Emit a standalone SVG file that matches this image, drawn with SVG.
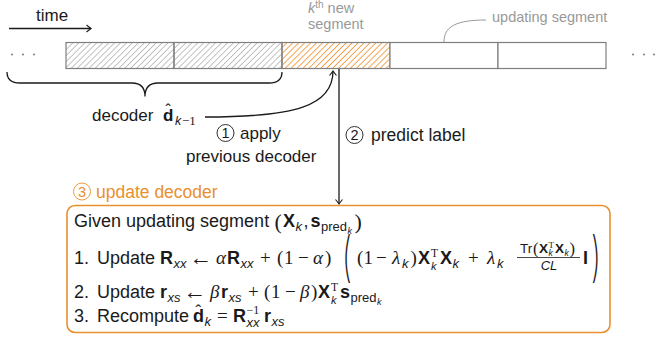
<svg xmlns="http://www.w3.org/2000/svg" width="657" height="339" viewBox="0 0 657 339">
<defs>
<style>
.t{font-family:"Liberation Sans",Arial,sans-serif;fill:#1a1a1a}
.b{font-family:"Liberation Sans",Arial,sans-serif;font-weight:bold;fill:#1a1a1a}
.i{font-family:"Liberation Sans",Arial,sans-serif;font-style:italic;fill:#1a1a1a}
.r{font-family:"Liberation Serif","Times New Roman",serif;fill:#1a1a1a}
.g{font-family:"Liberation Serif","Times New Roman",serif;font-style:italic;fill:#1a1a1a}
.big{font-family:Inter,"Liberation Sans",sans-serif;font-weight:200;fill:#1a1a1a}
.gray{font-family:"Liberation Sans",Arial,sans-serif;font-size:14.5px;fill:#999}
.orange{font-family:"Liberation Sans",Arial,sans-serif;fill:#e8902e}
.seg{stroke:#7f7f7f;stroke-width:1.2}
.line{fill:none;stroke:#1a1a1a;stroke-width:1.3}
.circ{fill:none;stroke:#1a1a1a;stroke-width:0.9}
</style>
<pattern id="hg" width="4.2" height="4.2" patternUnits="userSpaceOnUse" patternTransform="rotate(45)">
<line x1="2.1" y1="0" x2="2.1" y2="4.2" stroke="#b3b3b3" stroke-width="0.8"/>
</pattern>
<pattern id="ho" width="4.2" height="4.2" patternUnits="userSpaceOnUse" patternTransform="rotate(45)">
<line x1="2.1" y1="0" x2="2.1" y2="4.2" stroke="#f09a3e" stroke-width="0.9"/>
</pattern>
<marker id="arr" viewBox="-6 -5 8 10" refX="0" refY="0" markerWidth="8" markerHeight="10" markerUnits="userSpaceOnUse" orient="auto">
<path d="M-4.5,-3.5 Q-1,-0.6 0,0 Q-1,0.6 -4.5,3.5" fill="none" stroke="#1a1a1a" stroke-width="1.1"/>
</marker>
</defs>
<rect width="657" height="339" fill="#fff"/>
<g font-size="17">

<g id="time">
<text class="t" x="36" y="21">time</text>
</g>

<g id="dots-left" fill="#888">
<circle cx="12" cy="54.5" r="1.1"/><circle cx="23" cy="54.5" r="1.1"/><circle cx="34" cy="54.5" r="1.1"/>
</g>
<g id="dots-right" fill="#888">
<circle cx="633" cy="54.5" r="1.1"/><circle cx="644" cy="54.5" r="1.1"/><circle cx="654" cy="54.5" r="1.1"/>
</g>

<g id="segments">
<rect class="seg" x="66" y="42.5" width="108" height="26" fill="url(#hg)"/>
<rect class="seg" x="174" y="42.5" width="108" height="26" fill="url(#hg)"/>
<rect class="seg" x="282" y="42.5" width="108" height="26" fill="url(#ho)"/>
<rect class="seg" x="390" y="42.5" width="108" height="26" fill="#fff"/>
<rect class="seg" x="498" y="42.5" width="108" height="26" fill="#fff"/>
</g>

<g id="kth-label">
<text class="gray" x="308" y="13"><tspan font-style="italic">k</tspan><tspan font-size="10" dy="-5">th</tspan><tspan dy="5"> new</tspan></text>
<text class="gray" x="308" y="29">segment</text>
</g>

<g id="updating-label">
<text class="gray" x="492" y="22">updating segment</text>
</g>

<g id="decoder-label">
<text class="t" x="92" y="121">decoder</text>
<text class="b" x="163" y="121">d</text>
<text class="t" x="165.5" y="116" font-size="16">ˆ</text>
<text class="i" x="175" y="125" font-size="12.5">k</text>
<text class="r" x="182" y="125" font-size="13">−1</text>
</g>

<g id="step1">
<circle class="circ" cx="225.5" cy="133" r="8.5"/>
<text class="t" x="225.5" y="138.3" font-size="14.5" text-anchor="middle">1</text>
<text class="t" x="240" y="139">apply</text>
<text class="t" x="186" y="162">previous decoder</text>
</g>

<g id="step2">
<circle class="circ" cx="354.5" cy="135" r="8.5"/>
<text class="t" x="354.5" y="140.3" font-size="14.5" text-anchor="middle">2</text>
<text class="t" x="371" y="141" font-size="17.5">predict label</text>
</g>

<g id="step3">
<circle cx="82" cy="191.5" r="8.5" fill="none" stroke="#e8902e" stroke-width="0.9"/>
<text class="orange" x="82" y="196.8" font-size="14.5" text-anchor="middle">3</text>
<text class="orange" x="96" y="198" font-size="17.5">update decoder</text>
</g>

<g id="connectors">
<path class="line" d="M9,28.5 H91" marker-end="url(#arr)"/>
<path class="line" d="M7,72 Q7,83 20,83 L132,83 Q145,83 145,96.5 Q145,83 158,83 L269,83 Q282,83 282,72"/>
<path class="line" d="M205,117 C295,117 333,106 333,71" marker-end="url(#arr)"/>
<path class="line" d="M339,69 V204" marker-end="url(#arr)"/>
<path d="M486,20 C455,20 444,27 444,42" fill="none" stroke="#999" stroke-width="1"/>
</g>

<g id="update-box" font-size="18">
<rect x="67" y="205.5" width="543" height="127" rx="8" ry="8" fill="none" stroke="#e8902e" stroke-width="1.6"/>

<!-- line 0 -->
<text class="t" x="74" y="227">Given updating segment</text>
<text class="r" x="274.5" y="229" font-size="22">(</text>
<text class="b" x="283" y="227">X</text>
<text class="i" x="295.5" y="231" font-size="13">k</text>
<text class="t" x="303.5" y="227">,</text>
<text class="b" x="310.5" y="227">s</text>
<text class="t" x="321" y="231" font-size="13">pred</text>
<text class="i" x="347.5" y="234" font-size="9">k</text>
<text class="r" x="354.5" y="229" font-size="22">)</text>

<!-- line 1 -->
<text class="t" x="74" y="264">1.</text>
<text class="t" x="97" y="264">Update</text>
<text class="b" x="160" y="264">R</text>
<text class="i" x="173.5" y="268" font-size="13">xx</text>
<text class="t" x="189" y="265" font-size="23">←</text>
<text class="g" x="216" y="264" font-size="19">α</text>
<text class="b" x="227" y="264">R</text>
<text class="i" x="240.5" y="268" font-size="13">xx</text>
<text class="r" x="260" y="264" font-size="19">+</text>
<text class="r" x="277" y="264" font-size="19">(</text>
<text class="r" x="284" y="264" font-size="19">1</text>
<text class="r" x="298" y="264" font-size="19">−</text>
<text class="g" x="313" y="264" font-size="19">α</text>
<text class="r" x="325" y="264" font-size="19">)</text>
<text class="big" transform="translate(342,276) scale(0.55,1)" x="0" y="0" font-size="54">(</text>
<text class="r" x="357" y="264" font-size="19">(</text>
<text class="r" x="363.5" y="264" font-size="19">1</text>
<text class="r" x="376" y="264" font-size="19">−</text>
<text class="g" x="392" y="264" font-size="19">λ</text>
<text class="i" x="402" y="268" font-size="13">k</text>
<text class="r" x="410.5" y="264" font-size="19">)</text>
<text class="b" x="418" y="264">X</text>
<text class="r" x="431" y="256.5" font-size="11.5">T</text>
<text class="i" x="431" y="270" font-size="11">k</text>
<text class="b" x="440" y="264">X</text>
<text class="i" x="452.5" y="268" font-size="13">k</text>
<text class="r" x="468" y="264" font-size="19">+</text>
<text class="g" x="487" y="264" font-size="19">λ</text>
<text class="i" x="497" y="268" font-size="13">k</text>
<text class="t" x="520" y="253" font-size="13.5">Tr</text>
<text class="r" x="533" y="254" font-size="16.5">(</text>
<text class="b" x="539" y="253" font-size="13.5">X</text>
<text class="r" x="548.5" y="248" font-size="9">T</text>
<text class="i" x="548.5" y="256" font-size="8.5">k</text>
<text class="b" x="555" y="253" font-size="13.5">X</text>
<text class="i" x="564.5" y="256" font-size="8.5">k</text>
<text class="r" x="569.5" y="254" font-size="16.5">)</text>
<line x1="517" y1="257.5" x2="580" y2="257.5" stroke="#1a1a1a" stroke-width="0.8"/>
<text class="i" x="549" y="270" font-size="13" text-anchor="middle">CL</text>
<text class="b" x="583" y="264">I</text>
<text class="big" transform="translate(591,276) scale(0.55,1)" x="0" y="0" font-size="54">)</text>

<!-- line 2 -->
<text class="t" x="74" y="298">2.</text>
<text class="t" x="97" y="298">Update</text>
<text class="b" x="160" y="298">r</text>
<text class="i" x="167.5" y="302" font-size="13">xs</text>
<text class="t" x="183" y="299" font-size="23">←</text>
<text class="g" x="210" y="298" font-size="19">β</text>
<text class="b" x="221" y="298">r</text>
<text class="i" x="228.5" y="302" font-size="13">xs</text>
<text class="r" x="248" y="298" font-size="19">+</text>
<text class="r" x="264" y="298" font-size="19">(</text>
<text class="r" x="271" y="298" font-size="19">1</text>
<text class="r" x="285" y="298" font-size="19">−</text>
<text class="g" x="300" y="298" font-size="19">β</text>
<text class="r" x="311" y="298" font-size="19">)</text>
<text class="b" x="318" y="298">X</text>
<text class="r" x="331" y="290.5" font-size="11.5">T</text>
<text class="i" x="331" y="304" font-size="11">k</text>
<text class="b" x="340" y="298">s</text>
<text class="t" x="350.5" y="302" font-size="13">pred</text>
<text class="i" x="377" y="305" font-size="9">k</text>

<!-- line 3 -->
<text class="t" x="74" y="322">3.</text>
<text class="t" x="97" y="322">Recompute</text>
<text class="b" x="193" y="322">d</text>
<text class="t" x="195.5" y="317" font-size="17">ˆ</text>
<text class="i" x="204.5" y="326" font-size="13">k</text>
<text class="r" x="217" y="322" font-size="19">=</text>
<text class="b" x="233" y="322">R</text>
<text class="r" x="246.5" y="314" font-size="12">−1</text>
<text class="i" x="246.5" y="327" font-size="13">xx</text>
<text class="b" x="264" y="322">r</text>
<text class="i" x="271.5" y="326" font-size="13">xs</text>
</g>
</g>
</svg>
